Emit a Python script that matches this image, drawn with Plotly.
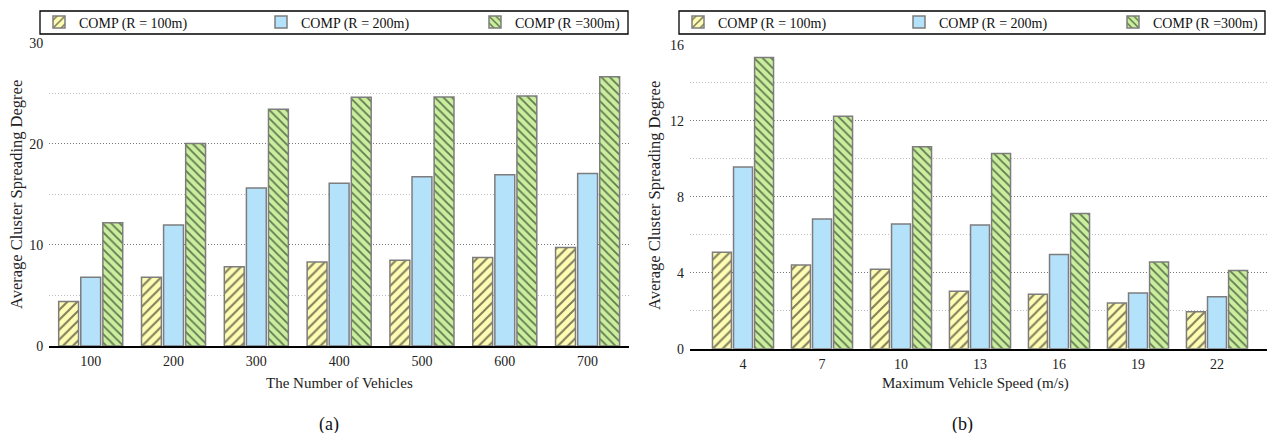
import plotly.graph_objects as go

W, H = 1267, 433

# ---- data ----
vehicles = ["100", "200", "300", "400", "500", "600", "700"]
a_r100 = [4.41, 6.81, 7.83, 8.32, 8.49, 8.75, 9.74]
a_r200 = [6.81, 11.97, 15.63, 16.09, 16.74, 16.94, 17.07]
a_r300 = [12.2, 20.03, 23.42, 24.6, 24.64, 24.74, 26.64]

speeds = ["4", "7", "10", "13", "16", "19", "22"]
b_r100 = [5.07, 4.40, 4.18, 3.02, 2.86, 2.40, 1.95]
b_r200 = [9.56, 6.82, 6.56, 6.51, 4.96, 2.93, 2.74]
b_r300 = [15.33, 12.23, 10.63, 10.28, 7.12, 4.56, 4.12]

series_names = ["COMP (R = 100m)", "COMP (R = 200m)", "COMP (R =300m)"]

FONT = "Liberation Serif"
YEL, BLU, GRN = "#FFFCB4", "#B4E2FB", "#C9EF9E"
EDGE = "#7d7d7d"

def px_x(p):
    return p / W

def px_y(p):
    return (H - p) / H

def bar(x, y, name, style, xa, ya, legend):
    if style == 0:
        marker = dict(color=YEL, line=dict(color=EDGE, width=1.5),
                      pattern=dict(shape="/", fgcolor="black", bgcolor=YEL, size=7, solidity=0.28))
    elif style == 1:
        marker = dict(color=BLU, line=dict(color=EDGE, width=1.5))
    else:
        marker = dict(color=GRN, line=dict(color=EDGE, width=1.5),
                      pattern=dict(shape="\\", fgcolor="black", bgcolor=GRN, size=6, solidity=0.3))
    return go.Bar(x=x, y=y, name=name, marker=marker, xaxis=xa, yaxis=ya,
                  legend=legend, showlegend=True)

fig = go.Figure()
leg_ids_a = ["legend", "legend2", "legend3"]
leg_ids_b = ["legend4", "legend5", "legend6"]
for i, vals in enumerate([a_r100, a_r200, a_r300]):
    fig.add_trace(bar(vehicles, vals, series_names[i], i, "x", "y", leg_ids_a[i]))
for i, vals in enumerate([b_r100, b_r200, b_r300]):
    fig.add_trace(bar(speeds, vals, series_names[i], i, "x2", "y2", leg_ids_b[i]))

tickfont = dict(family=FONT, size=14, color="#222")
common_x = dict(type="category", showgrid=False, showline=True, linecolor="black",
                linewidth=2, ticks="", tickfont=tickfont, zeroline=False, fixedrange=True,
                ticklabelstandoff=1)
GD = "1px,2px"

def yax(dom, rng, major, minor):
    return dict(domain=dom, range=rng, tickvals=major,
                showgrid=True, gridcolor="#777", griddash=GD, gridwidth=1,
                minor=dict(tickvals=minor, showgrid=True, gridcolor="#bdbdbd",
                           griddash=GD, gridwidth=1),
                showline=False, zeroline=False, ticks="", tickfont=tickfont,
                ticklabelstandoff=5)

leg_common = dict(orientation="h", xanchor="left", yanchor="middle",
                  borderwidth=0, bgcolor="rgba(0,0,0,0)",
                  font=dict(family=FONT, size=14, color="#111"),
                  itemwidth=30, tracegroupgap=0,
                  itemclick=False, itemdoubleclick=False)

legend_layout = {}
# swatch centres (px) of the reference legend entries
for lid, cx in zip(leg_ids_a + leg_ids_b, [57, 279, 493, 696, 917, 1131]):
    legend_layout[lid] = dict(leg_common, x=px_x(cx - 18), y=px_y(22.5))

fig.update_layout(
    width=W, height=H, margin=dict(l=0, r=0, t=0, b=0, autoexpand=False),
    paper_bgcolor="white", plot_bgcolor="white",
    barmode="group", bargap=0.2, bargroupgap=0.1,
    font=dict(family=FONT, color="#222"),
    xaxis=dict(common_x, domain=[px_x(49.3), px_x(629)], range=[-0.5, 6.5], anchor="y"),
    yaxis=dict(yax([px_y(346), px_y(42.7)], [0, 30], [0, 10, 20, 30], [5, 15, 25]), anchor="x"),
    xaxis2=dict(common_x, domain=[px_x(690), 1.0], range=[-0.671, 6.633], anchor="y2"),
    yaxis2=dict(yax([px_y(348.7), px_y(44.7)], [0, 16], [0, 4, 8, 12, 16], [2, 6, 10, 14]),
                anchor="x2"),
    **legend_layout,
)

# legend frames
for x0, x1 in [(40, 628), (679, 1265)]:
    fig.add_shape(type="rect", xref="paper", yref="paper",
                  x0=px_x(x0), x1=px_x(x1), y0=px_y(34), y1=px_y(11),
                  line=dict(color="black", width=1.3), fillcolor="rgba(0,0,0,0)", layer="above")

ann = [
    dict(text="The Number of Vehicles", x=px_x(339), y=px_y(383), size=15),
    dict(text="Maximum Vehicle Speed (m/s)", x=px_x(975), y=px_y(383), size=15),
    dict(text="Average Cluster Spreading Degree", x=px_x(16), y=px_y(195), textangle=-90, size=16.5),
    dict(text="Average Cluster Spreading Degree", x=px_x(655), y=px_y(196), textangle=-90, size=16.5),
]
for a in ann:
    size = a.pop("size")
    fig.add_annotation(xref="paper", yref="paper", showarrow=False, xanchor="center",
                       yanchor="middle", font=dict(family=FONT, size=size, color="#222"), **a)
for t, xc in [("(a)", 329), ("(b)", 962)]:
    fig.add_annotation(text=t, xref="paper", yref="paper", x=px_x(xc), y=px_y(424),
                       showarrow=False, xanchor="center", yanchor="middle",
                       font=dict(family=FONT, size=18, color="#111"))

fig.write_html("out.html", config=dict(displayModeBar=False))
